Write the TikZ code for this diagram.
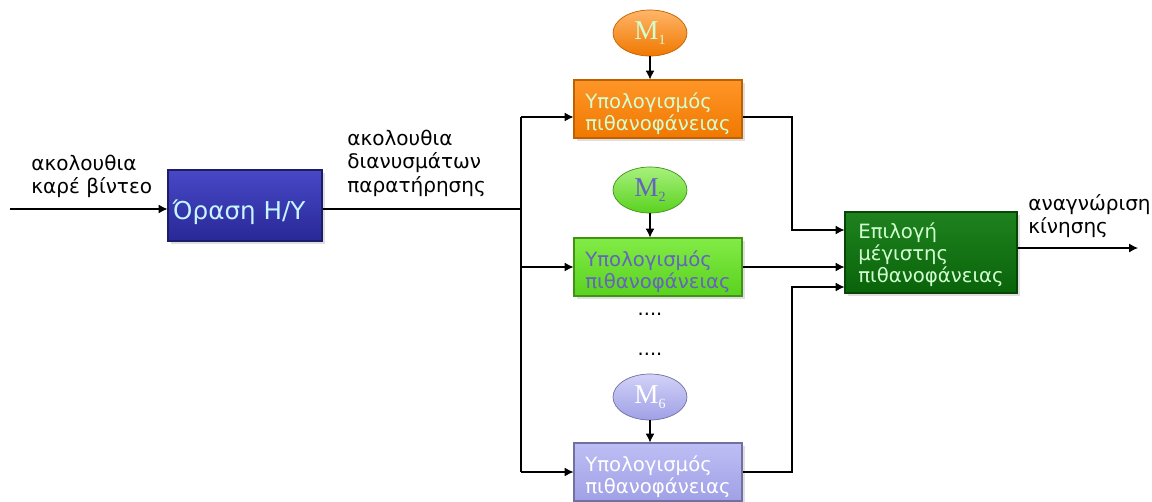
\documentclass[tikz,border=0pt]{standalone}
\usepackage{fontspec}
\setmainfont{DejaVu Sans}
\newfontfamily\mfont{Liberation Serif}
\usetikzlibrary{shapes.geometric,arrows.meta,shadows}
\definecolor{blueA}{RGB}{72,72,200}
\definecolor{blueB}{RGB}{40,40,150}
\definecolor{orA}{RGB}{255,150,40}
\definecolor{orB}{RGB}{240,120,0}
\definecolor{grA}{RGB}{130,235,70}
\definecolor{grB}{RGB}{90,210,30}
\definecolor{laA}{RGB}{190,190,245}
\definecolor{laB}{RGB}{160,160,230}
\definecolor{dgA}{RGB}{30,130,30}
\definecolor{dgB}{RGB}{10,100,10}
\definecolor{paleG}{RGB}{210,255,210}
\definecolor{paleC}{RGB}{200,245,255}
\definecolor{slate}{RGB}{100,100,190}
\tikzset{
  blk/.style={draw, line width=0.6pt, minimum height=58*0.02cm, minimum width=168*0.02cm,
    inner sep=0pt, drop shadow={opacity=0.25, shadow xshift=1.5pt, shadow yshift=-1.5pt}},
  btxt/.style={font=\fontsize{11.2}{12.6}\selectfont, align=left, inner sep=0pt},
  mell/.style={ellipse, draw, line width=0.4pt, minimum width=74*0.02cm, minimum height=46*0.02cm,
    inner sep=0pt, font=\mfont\fontsize{15.5}{15.5}\selectfont},
  con/.style={line width=0.6pt, -{Latex[length=5pt,width=5pt]}},
  lin/.style={line width=0.6pt},
  lbl/.style={font=\fontsize{11.4}{13.2}\selectfont, align=left, anchor=north west, inner sep=0pt}
}
\newcommand{\msub}[1]{M\raisebox{-0.35ex}{\fontsize{8}{8}\selectfont #1}}
\begin{document}
\begin{tikzpicture}[x=0.02cm,y=-0.02cm]
\useasboundingbox (0,0) rectangle (1152,501);
\clip (0,0) rectangle (1152,501);
% boxes
\node[blk, top color=blueA, bottom color=blueB, draw=blueB!70!black,
  minimum width=154*0.02cm, minimum height=71*0.02cm] (vis) at (245,205.5) {};
\node[btxt, text=paleC, font=\fontsize{14}{14}\selectfont] (vist) at (239,212) {Όραση Η/Υ};
\node[blk, top color=orA, bottom color=orB, draw=orB!80!black] (p1) at (658,109) {};
\node[btxt, text=paleG] (p1t) at (658,114) {Υπολογισμός\\πιθανοφάνειας};
\node[blk, top color=grA, bottom color=grB, draw=grB!70!black] (p2) at (658,267) {};
\node[btxt, text=slate] (p2t) at (658,272) {Υπολογισμός\\πιθανοφάνειας};
\node[blk, top color=laA, bottom color=laB, draw=laB!70!black] (p6) at (658,472) {};
\node[btxt, text=white] (p6t) at (658,477) {Υπολογισμός\\πιθανοφάνειας};
\node[blk, top color=dgA, bottom color=dgB, draw=dgB!70!black,
  minimum width=172*0.02cm, minimum height=81*0.02cm] (sel) at (931,252.5) {};
\node[btxt, text=paleG, anchor=west] (selt) at (858,255) {Επιλογή\\μέγιστης\\πιθανοφάνειας};
% models
\node[mell, top color=orA!70!white, bottom color=orB, draw=orB!80!black, text=paleG] (m1) at (650,33) {\msub{1}};
\node[mell, top color=grA!70!white, bottom color=grB, draw=grB!70!black, text=slate] (m2) at (650,190) {\msub{2}};
\node[mell, top color=laA!70!white, bottom color=laB, draw=laB!70!black, text=white] (m6) at (650,397) {\msub{6}};
\node[font=\fontsize{11}{11}\selectfont] (d1) at (650,314) {....};
\node[font=\fontsize{11}{11}\selectfont] (d2) at (650,354) {....};
% labels
\node[lbl] (l1) at (31,155) {ακολουθια\\καρέ βίντεο};
\node[lbl] (l2) at (347,130) {ακολουθια\\διανυσμάτων\\παρατήρησης};
\node[lbl] (l3) at (1028,194) {αναγνώριση\\κίνησης};
% coordinates
\coordinate (in) at (10,209);
\coordinate (sp) at (521,209);
\coordinate (top) at (521,117);
\coordinate (bot) at (521,472);
\coordinate (out) at (1138,248);
% connectors
\draw[con] (in) -- (vis.west |- in);
\draw[lin] (vis.east |- sp) -- (sp);
\draw[lin] (top) -- (bot);
\draw[con] (top) -- (p1.west |- top);
\draw[con] (sp |- p2.west) -- (p2.west);
\draw[con] (bot) -- (p6.west |- bot);
\draw[con] (m1.south) -- (m1.south |- p1.north);
\draw[con] (m2.south) -- (m2.south |- p2.north);
\draw[con] (m6.south) -- (m6.south |- p6.north);
\draw[con] (p1.east |- top) -| (792,230) -- (sel.west |- 0,230);
\draw[con] (p2.east) -- (sel.west |- p2.east);
\draw[con] (p6.east |- bot) -| (792,287) -- (sel.west |- 0,287);
\draw[con] (sel.east |- out) -- (out);
\end{tikzpicture}
\end{document}
